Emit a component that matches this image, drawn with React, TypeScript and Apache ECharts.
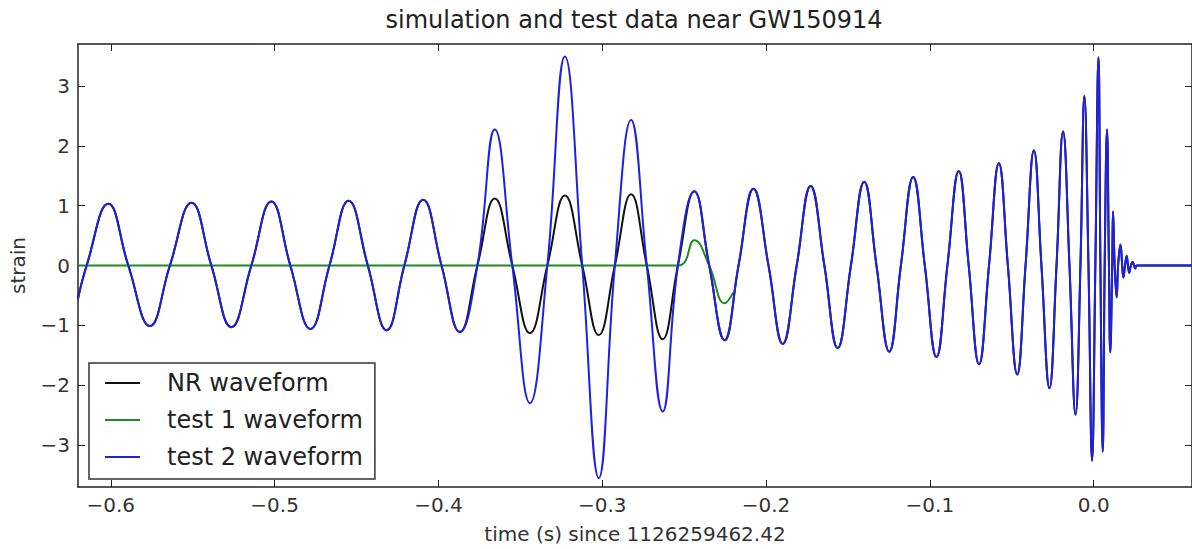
import React, { useEffect, useRef } from "react";
import * as echarts from "echarts";

const chartTitle = "simulation and test data near GW150914";
const xAxisName = "time (s) since 1126259462.42";
const yAxisName = "strain";
const seriesNames = ["NR waveform", "test 1 waveform", "test 2 waveform"];
const xTicks = [-0.6, -0.5, -0.4, -0.3, -0.2, -0.1, 0.0];
const yTicks = [-3, -2, -1, 0, 1, 2, 3];

// times (s) of extrema and zero crossings
const times = [
  -0.62, -0.6147, -0.6015, -0.5893, -0.5761, -0.5639, -0.5507, -0.5386, -0.5264, -0.5142,
  -0.502, -0.4904, -0.4781, -0.4665, -0.4548, -0.4431, -0.4316, -0.4208, -0.4093, -0.3981,
  -0.3869, -0.3762, -0.3656, -0.3549, -0.3441, -0.3335, -0.3228, -0.3122, -0.3021, -0.2923,
  -0.2824, -0.2728, -0.2631, -0.2538, -0.2438, -0.2347, -0.2253, -0.2168, -0.2077, -0.1985,
  -0.1898, -0.1813, -0.1728, -0.1644, -0.1563, -0.1482, -0.1401, -0.1326, -0.1248, -0.1177,
  -0.1102, -0.1031, -0.096, -0.0893, -0.0824, -0.0763, -0.07, -0.0639, -0.0579, -0.0524,
  -0.0467, -0.0416, -0.0365, -0.0319, -0.027, -0.0227, -0.0187, -0.0148, -0.0111, -0.0081,
  -0.0057, -0.0032, -0.001, 0.001, 0.0029, 0.0041, 0.0055, 0.0067, 0.0081, 0.0093,
  0.0101, 0.0113, 0.0118, 0.0128, 0.014, 0.0149, 0.0163, 0.0174, 0.0181, 0.0191,
  0.0201, 0.0209, 0.0217, 0.0227, 0.0238, 0.0246, 0.0254, 0.0262, 0.06,
];

const nrStrain = [
  -0.55, 0, 1.03, 0, -1.01, 0, 1.05, 0, -1.03, 0,
  1.07, 0, -1.06, 0, 1.08, 0, -1.08, 0, 1.1, 0,
  -1.11, 0, 1.12, 0, -1.13, 0, 1.17, 0, -1.16, 0,
  1.19, 0, -1.23, 0, 1.24, 0, -1.25, 0, 1.28, 0,
  -1.31, 0, 1.33, 0, -1.38, 0, 1.4, 0, -1.44, 0,
  1.48, 0, -1.53, 0, 1.58, 0, -1.65, 0, 1.71, 0,
  -1.82, 0, 1.92, 0, -2.05, 0, 2.24, 0, -2.49, 0,
  2.83, 0, -3.26, 0, 3.48, 0, -3.11, 0, 2.27, 0,
  -1.45, 0, 0.9, 0, -0.53, 0, 0.35, 0, -0.2, 0,
  0.16, 0, -0.12, 0, 0.06, 0, -0.05, 0, 0,
];

const test2Strain = [
  -0.55, 0, 1.03, 0, -1.01, 0, 1.05, 0, -1.03, 0,
  1.07, 0, -1.06, 0, 1.08, 0, -1.08, 0, 1.1, 0,
  -1.11, 0, 2.27, 0, -2.3, 0, 3.49, 0, -3.55, 0,
  2.43, 0, -2.44, 0, 1.24, 0, -1.25, 0, 1.28, 0,
  -1.31, 0, 1.33, 0, -1.38, 0, 1.4, 0, -1.44, 0,
  1.48, 0, -1.53, 0, 1.58, 0, -1.65, 0, 1.71, 0,
  -1.82, 0, 1.92, 0, -2.05, 0, 2.24, 0, -2.49, 0,
  2.83, 0, -3.26, 0, 3.48, 0, -3.11, 0, 2.27, 0,
  -1.45, 0, 0.9, 0, -0.53, 0, 0.35, 0, -0.2, 0,
  0.16, 0, -0.12, 0, 0.06, 0, -0.05, 0, 0,
];

const test1Times = [-0.62, -0.2538, -0.2438, -0.2347, -0.2253, -0.22];
const test1Strain = [0, 0, 0.42, 0, -0.63, -0.45];

const FONT = "DejaVu Sans";
const minus = (s: string) => s.replace("-", "\u2212");

export default function App() {
  const ref = useRef<HTMLDivElement>(null);
  useEffect(() => {
    const chart = echarts.init(ref.current!, undefined, { renderer: "svg" });
    const axisLine = { show: true, onZero: false, lineStyle: { color: "#222", width: 1.5 } };
    const tickStyle = { color: "#222", width: 1 };
    const xCommon = { type: "value", min: -0.62, max: 0.06, splitLine: { show: false } };
    const yCommon = { type: "value", min: -3.7, max: 3.7, splitLine: { show: false } };
    chart.setOption({
      animation: false,
      backgroundColor: "#fff",
      title: {
        text: chartTitle,
        left: 634,
        top: 8,
        padding: 0,
        textAlign: "center",
        textStyle: { fontFamily: FONT, fontSize: 24, fontWeight: "normal", color: "#222" },
      },
      grid: { left: 78, top: 44, width: 1117, height: 447 },
      legend: {
        data: seriesNames,
        orient: "vertical",
        left: 89,
        top: 363,
        icon: "rect",
        itemWidth: 35,
        itemHeight: 2,
        itemGap: 13,
        padding: [8, 12, 10, 16],
        borderColor: "#333",
        borderWidth: 1.5,
        borderRadius: 0,
        backgroundColor: "#fff",
        textStyle: { fontFamily: FONT, fontSize: 24, lineHeight: 24, color: "#222", padding: [0, 0, 0, 22] },
      },
      xAxis: [
        {
          ...xCommon,
          position: "bottom",
          axisLine,
          axisTick: { show: true, inside: true, length: 7, customValues: xTicks, lineStyle: tickStyle },
          axisLabel: {
            customValues: xTicks,
            formatter: (v: number) => minus(v.toFixed(1)),
            margin: 8,
            fontFamily: FONT,
            fontSize: 20,
            color: "#333",
          },
          name: xAxisName,
          nameLocation: "middle",
          nameGap: 37,
          nameTextStyle: { fontFamily: FONT, fontSize: 20, color: "#333" },
        },
        {
          ...xCommon,
          position: "top",
          axisLine,
          axisTick: { show: true, inside: true, length: 7, customValues: xTicks, lineStyle: tickStyle },
          axisLabel: { show: false },
        },
      ],
      yAxis: [
        {
          ...yCommon,
          position: "left",
          axisLine,
          axisTick: { show: true, inside: true, length: 7, customValues: yTicks, lineStyle: tickStyle },
          axisLabel: {
            customValues: yTicks,
            formatter: (v: number) => minus(String(v)),
            margin: 8,
            fontFamily: FONT,
            fontSize: 20,
            color: "#333",
          },
          name: yAxisName,
          nameLocation: "middle",
          nameGap: 50,
          nameTextStyle: { fontFamily: FONT, fontSize: 20, color: "#333" },
        },
        {
          ...yCommon,
          position: "right",
          axisLine,
          axisTick: { show: true, inside: true, length: 7, customValues: yTicks, lineStyle: tickStyle },
          axisLabel: { show: false },
        },
      ],
      series: [
        {
          name: seriesNames[0],
          type: "line",
          data: times.map((t, i) => [t, nrStrain[i]]),
          smooth: 0.45,
          symbol: "none",
          color: "#111",
          lineStyle: { color: "#111", width: 2 },
        },
        {
          name: seriesNames[1],
          type: "line",
          data: test1Times.map((t, i) => [t, test1Strain[i]]),
          smooth: 0.45,
          symbol: "none",
          color: "#228822",
          lineStyle: { color: "#228822", width: 2 },
        },
        {
          name: seriesNames[2],
          type: "line",
          data: times.map((t, i) => [t, test2Strain[i]]),
          smooth: 0.45,
          symbol: "none",
          color: "#2020e0",
          lineStyle: { color: "#2020e0", width: 2 },
        },
      ],
    });
    return () => chart.dispose();
  }, []);
  return (
    <div
      ref={ref}
      style={{ position: "fixed", left: 0, top: 0, width: 1192, height: 549, background: "#fff" }}
    />
  );
}
